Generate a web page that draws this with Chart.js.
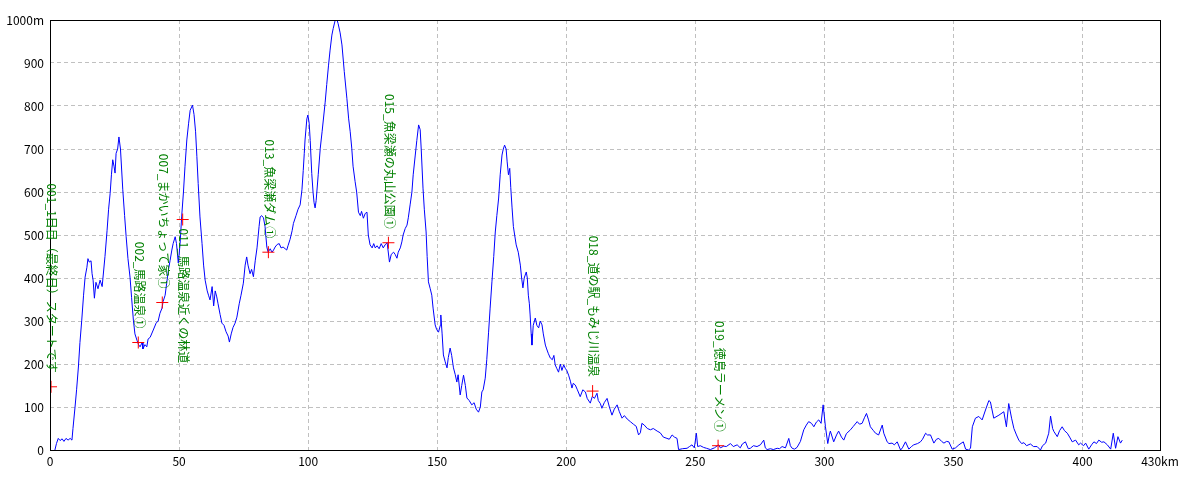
<!DOCTYPE html>
<html>
<head>
<meta charset="utf-8">
<script src="https://cdn.jsdelivr.net/npm/chart.js@4.4.1/dist/chart.umd.min.js"></script>
<style>
  html, body { margin: 0; padding: 0; background: #fff; }
  #wrap { width: 1200px; height: 480px; }
</style>
</head>
<body>
<div id="wrap"><canvas id="profile" width="1200" height="480"></canvas></div>
<script>
// distance (km) and elevation (m)
const dist = [
  1.9, 2.5, 3.2, 3.9, 4.7, 5.4, 6.2, 7.0, 7.8, 8.5, 8.9, 9.7, 10.3, 11.0, 11.6, 12.3, 13.0, 13.6, 14.3, 14.7,
  15.2, 15.9, 16.3, 16.7, 17.2, 17.8, 18.6, 19.4, 20.2, 21.3, 22.1, 22.7, 23.3, 23.8, 24.3, 24.8, 25.2, 25.6, 26.2, 26.7,
  27.3, 28.2, 28.9, 29.5, 30.2, 31.0, 31.6, 32.3, 32.9, 33.7, 34.3, 34.9, 35.7, 36.0, 36.8, 37.5, 38.0, 38.8, 40.0, 41.1,
  41.9, 42.6, 43.4, 43.8, 44.6, 45.2, 45.9, 46.5, 47.2, 47.7, 48.5, 49.0, 49.7, 50.4, 51.0, 51.7, 52.3, 53.0, 53.7, 54.3,
  55.2, 55.8, 56.4, 56.9, 57.4, 58.1, 58.9, 59.5, 60.1, 60.9, 61.4, 62.0, 62.8, 63.4, 64.0, 64.6, 65.1, 65.9, 66.6, 67.4,
  68.2, 69.0, 69.5, 70.2, 70.9, 71.7, 72.4, 73.3, 74.0, 74.9, 75.6, 76.2, 76.7, 77.5, 78.1, 78.8, 79.5, 80.2, 81.0, 81.4,
  82.0, 82.7, 83.3, 84.0, 84.5, 85.3, 86.0, 86.6, 87.2, 88.0, 88.8, 89.5, 90.3, 91.1, 91.7, 92.2, 93.0, 93.8, 94.3, 95.3,
  96.1, 96.9, 97.6, 98.1, 98.5, 98.8, 99.5, 99.9, 100.4, 100.8, 101.4, 101.9, 102.3, 102.7, 103.1, 103.9, 104.7, 105.4, 106.6, 107.2,
  107.9, 108.5, 109.2, 109.7, 110.5, 111.2, 111.6, 112.4, 113.1, 114.0, 115.0, 115.7, 116.3, 116.9, 117.4, 118.2, 118.8, 119.5, 120.2, 120.7,
  121.4, 122.1, 122.8, 123.3, 124.0, 124.8, 125.4, 126.0, 126.7, 127.5, 128.3, 129.1, 129.8, 130.6, 131.5, 132.2, 133.1, 133.7, 134.4, 134.9,
  135.7, 136.3, 136.8, 137.6, 138.3, 138.8, 139.5, 140.2, 140.7, 141.5, 142.1, 142.8, 143.4, 143.8, 144.5, 145.0, 145.7, 146.1, 146.6, 147.3,
  147.9, 148.4, 149.2, 149.8, 150.5, 151.2, 151.4, 151.9, 152.4, 153.1, 153.8, 154.3, 155.0, 155.6, 156.3, 157.0, 157.6, 158.1, 158.9, 159.5,
  160.2, 160.9, 161.5, 162.4, 163.4, 164.3, 165.1, 166.0, 166.7, 167.3, 167.8, 168.6, 169.2, 169.9, 170.5, 171.2, 171.9, 172.5, 173.1, 173.8,
  174.4, 175.1, 175.6, 176.1, 176.7, 177.1, 177.6, 178.1, 178.5, 179.0, 179.5, 180.0, 180.6, 181.4, 182.2, 182.7, 183.2, 183.7, 184.5, 184.9,
  185.3, 185.7, 186.0, 186.4, 186.7, 187.2, 188.0, 188.6, 189.3, 189.9, 190.6, 191.1, 191.9, 192.4, 193.0, 193.8, 194.6, 195.2, 195.7, 196.3,
  197.0, 197.7, 198.3, 199.0, 199.6, 200.2, 200.9, 201.6, 202.2, 202.7, 203.5, 204.3, 205.4, 206.4, 207.4, 208.1, 209.3, 210.1, 210.9, 211.9,
  212.4, 213.2, 213.8, 214.7, 215.8, 216.7, 217.7, 218.6, 219.7, 220.5, 221.6, 222.5, 223.6, 224.8, 226.0, 227.1, 228.0, 228.7, 229.3, 230.2,
  231.4, 232.6, 233.7, 235.2, 236.4, 237.6, 239.0, 239.9, 241.0, 241.9, 242.9, 243.5, 245.0, 246.8, 247.7, 248.7, 249.6, 250.4, 250.9, 251.9,
  253.2, 254.3, 255.8, 257.4, 259.0, 259.7, 261.0, 262.0, 263.6, 264.7, 266.2, 267.4, 268.2, 269.4, 270.5, 271.3, 272.5, 273.9, 275.2, 276.5,
  277.1, 277.8, 279.1, 280.2, 281.7, 282.6, 283.6, 284.9, 286.2, 286.8, 287.5, 288.4, 289.4, 290.7, 292.0, 293.0, 293.9, 295.0, 295.9, 296.9,
  297.8, 298.7, 299.5, 300.4, 301.3, 301.9, 302.3, 303.6, 304.7, 305.5, 306.6, 307.5, 308.5, 310.1, 311.2, 312.7, 313.6, 314.6, 315.5, 316.3,
  317.1, 317.8, 319.0, 319.8, 321.0, 322.4, 323.0, 324.3, 325.0, 326.2, 327.1, 328.2, 329.5, 330.2, 331.4, 332.7, 333.7, 334.6, 336.1, 337.2,
  338.0, 339.2, 339.9, 341.1, 342.4, 343.4, 344.3, 345.4, 346.3, 347.3, 348.2, 349.5, 350.8, 352.1, 353.8, 354.7, 355.8, 356.6, 357.3, 358.5,
  359.8, 361.1, 362.4, 363.7, 364.3, 365.6, 367.6, 369.5, 370.5, 371.4, 372.5, 373.4, 374.4, 375.3, 376.4, 377.3, 378.3, 379.8, 381.0, 382.4,
  383.7, 384.5, 385.7, 386.9, 387.6, 388.4, 388.9, 390.2, 391.1, 392.1, 393.0, 394.1, 395.0, 396.0, 397.3, 398.5, 399.2, 400.4, 401.2, 402.4,
  403.5, 404.4, 405.4, 406.3, 407.4, 408.3, 409.6, 410.9, 411.9, 412.8, 413.7, 414.7, 415.4
];
const elev = [
  0, 15, 27, 22, 26, 20, 27, 23, 27, 23, 50, 100, 140, 193, 250, 302, 360, 402, 425, 445,
  437, 440, 410, 395, 353, 390, 375, 395, 380, 450, 510, 560, 597, 640, 675, 660, 644, 690, 700, 728,
  700, 605, 545, 496, 445, 402, 355, 302, 270, 255, 245, 240, 250, 235, 245, 240, 258, 262, 279, 295,
  300, 318, 330, 345, 360, 388, 420, 440, 465, 480, 496, 480, 435, 480, 542, 600, 660, 721, 760, 790,
  802, 780, 740, 682, 620, 542, 480, 430, 395, 370, 360, 349, 380, 335, 370, 356, 340, 315, 295, 290,
  275, 265, 251, 270, 285, 295, 309, 340, 360, 388, 430, 449, 430, 410, 420, 403, 440, 470, 520, 542,
  545, 540, 520, 472, 460, 468, 460, 465, 472, 478, 480, 470, 472, 468, 465, 475, 490, 510, 527, 545,
  560, 570, 605, 650, 690, 721, 770, 779, 760, 720, 643, 600, 575, 563, 580, 640, 702, 740, 809, 850,
  895, 930, 965, 980, 1000, 1000, 992, 970, 942, 880, 818, 770, 740, 702, 660, 624, 600, 553, 545, 555,
  539, 550, 553, 500, 477, 470, 480, 470, 475, 468, 480, 470, 477, 482, 437, 455, 460, 455, 446, 460,
  470, 484, 500, 515, 523, 540, 570, 600, 640, 686, 720, 756, 745, 700, 609, 560, 507, 450, 391, 375,
  360, 330, 291, 280, 274, 290, 314, 270, 221, 205, 191, 215, 237, 220, 191, 175, 158, 175, 128, 150,
  174, 150, 121, 115, 105, 110, 95, 88, 100, 135, 140, 167, 210, 274, 330, 391, 450, 507, 545, 586,
  640, 686, 700, 709, 700, 670, 640, 655, 610, 563, 520, 500, 477, 460, 430, 400, 377, 400, 414, 400,
  360, 340, 314, 270, 244, 290, 307, 290, 284, 300, 291, 270, 244, 235, 225, 214, 210, 220, 198, 190,
  181, 200, 185, 198, 190, 185, 174, 160, 144, 155, 151, 140, 124, 140, 135, 120, 109, 125, 120, 132,
  115, 108, 97, 110, 120, 100, 81, 95, 105, 90, 74, 80, 72, 66, 60, 55, 35, 40, 62, 58,
  50, 47, 50, 44, 40, 30, 27, 25, 35, 30, 27, 1, 3, 4, 8, 12, 5, 39, 8, 10,
  6, 4, 1, 5, 12, 5, 9, 8, 15, 8, 12, 5, 14, 19, 3, 4, 10, 8, 12, 23,
  5, 1, 3, 1, 4, 3, 8, 5, 27, 10, 4, 2, 6, 20, 47, 58, 66, 62, 54, 65,
  70, 62, 105, 54, 15, 35, 44, 19, 35, 44, 30, 23, 38, 47, 55, 66, 60, 62, 75, 85,
  70, 54, 45, 39, 35, 58, 39, 19, 15, 16, 12, 19, 0, 5, 19, 2, 8, 12, 15, 19,
  25, 39, 35, 35, 16, 25, 27, 20, 16, 20, 19, 2, 5, 12, 19, 2, 0, 4, 54, 74,
  78, 70, 93, 115, 112, 74, 81, 89, 54, 108, 74, 50, 35, 23, 15, 17, 10, 14, 8, 8,
  0, 10, 16, 39, 79, 50, 43, 31, 45, 54, 45, 39, 30, 19, 23, 12, 16, 10, 16, 2,
  12, 19, 15, 23, 18, 19, 12, 2, 39, 4, 31, 16, 23
];

// waypoints
const markDist = [0.4, 34.2, 43.5, 51.4, 84.6, 131.1, 210.2, 258.8];
const markElev = [147, 250, 343, 536, 460, 482, 137, 10];
const markNames = [
  '001_1日目（最終日）スタートです',
  '002_馬路温泉①',
  '007_まかいちょって家①',
  '011_馬路温泉近くの林道',
  '013_魚梁瀬ダム①',
  '015_魚梁瀬の丸山公園①',
  '018_道の駅_もみじ川温泉',
  '019_徳島ラーメン①'
];
// label hangs below the cross instead of above it
const labelBelow = [false, false, false, true, false, false, false, false];

const xTicks = [0, 50, 100, 150, 200, 250, 300, 350, 400, 430];
const yTicks = [0, 100, 200, 300, 400, 500, 600, 700, 800, 900, 1000];

const FONT = "'Noto Sans CJK JP', 'Noto Sans', sans-serif";

const frameAndLabels = {
  id: 'frameAndLabels',
  afterDatasetsDraw(chart) {
    const ctx = chart.ctx;
    const a = chart.chartArea;
    ctx.save();
    ctx.strokeStyle = '#000';
    ctx.lineWidth = 1;
    ctx.strokeRect(Math.round(a.left) + 0.5, Math.round(a.top) + 0.5,
      Math.round(a.right - a.left), Math.round(a.bottom - a.top));

    const pts = chart.getDatasetMeta(0).data;
    ctx.fillStyle = '#008000';
    ctx.font = '12px ' + FONT;
    ctx.textBaseline = 'middle';
    pts.forEach((p, i) => {
      ctx.save();
      if (labelBelow[i]) {
        ctx.translate(p.x + 1, p.y + 9);
        ctx.rotate(Math.PI / 2);
        ctx.textAlign = 'left';
      } else {
        ctx.translate(p.x + 1, p.y - 14);
        ctx.rotate(Math.PI / 2);
        ctx.textAlign = 'right';
      }
      ctx.fillText(markNames[i], 0, 0);
      ctx.restore();
    });
    ctx.restore();
  }
};

new Chart(document.getElementById('profile'), {
  type: 'line',
  data: {
    datasets: [{
      data: markDist.map((d, i) => ({ x: d, y: markElev[i] })),
      showLine: false,
      pointStyle: 'cross',
      pointRadius: 6,
      pointBorderColor: '#ff0000',
      pointBorderWidth: 1,
      borderColor: '#ff0000'
    }, {
      data: dist.map((d, i) => ({ x: d, y: elev[i] })),
      borderColor: '#0000ff',
      borderWidth: 1,
      pointRadius: 0,
      tension: 0,
      fill: false
    }]
  },
  options: {
    responsive: false,
    animation: false,
    devicePixelRatio: 1,
    layout: { padding: { top: 20, right: 40, left: 0, bottom: 0 } },
    plugins: { legend: { display: false }, tooltip: { enabled: false } },
    scales: {
      x: {
        type: 'linear', min: 0, max: 430,
        afterBuildTicks: s => { s.ticks = xTicks.map(v => ({ value: v })); },
        afterFit: s => { s.height = 30; },
        grid: { color: '#c0c0c0', drawTicks: false },
        border: { display: false, dash: [4, 3] },
        ticks: {
          color: '#000', padding: 4, maxRotation: 0, autoSkip: false,
          font: { family: FONT, size: 12 },
          callback: v => v === 430 ? '430km' : String(v)
        }
      },
      y: {
        type: 'linear', min: 0, max: 1000,
        afterBuildTicks: s => { s.ticks = yTicks.map(v => ({ value: v })); },
        afterFit: s => { s.width = 50; },
        grid: { color: '#c0c0c0', drawTicks: false },
        border: { display: false, dash: [4, 3] },
        ticks: {
          color: '#000', padding: 6, autoSkip: false,
          font: { family: FONT, size: 12 },
          callback: v => v === 1000 ? '1000m' : String(v)
        }
      }
    }
  },
  plugins: [frameAndLabels]
});
</script>
</body>
</html>
